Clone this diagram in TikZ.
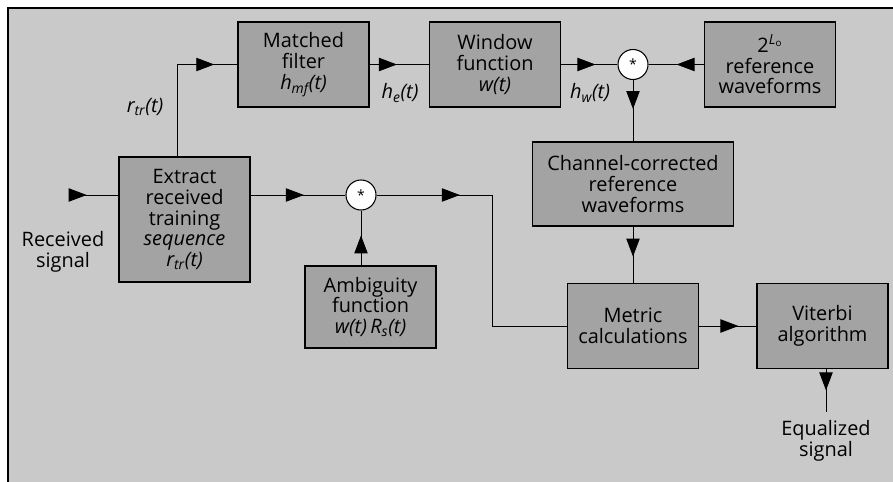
\documentclass[tikz,border=0pt]{standalone}
\usepackage{fontspec}
\setmainfont{Open Sans}
\usepackage{tikz}
\usetikzlibrary{arrows.meta,decorations.markings}
\definecolor{paper}{gray}{0.79}
\definecolor{blockfill}{gray}{0.64}
\newcommand{\sgl}[2]{\textit{#1\textsubscript{#2}(t)}}
\tikzset{
  block/.style ={draw=black,line width=1pt,fill=blockfill,align=center,
                 minimum width=3.93cm,minimum height=2.55cm,inner sep=2pt,
                 font=\fontsize{17}{17.8}\selectfont},
  conv/.style  ={circle,draw=black,line width=0.9pt,fill=white,minimum size=0.9cm,
                 inner sep=0pt,font=\large},
  lbl/.style   ={align=center,font=\fontsize{17}{17.8}\selectfont},
  flow/.style  ={line width=0.8pt,draw=black,postaction={decorate},
                 decoration={markings,mark=at position #1 with
                   {\arrow{Triangle[length=5.4mm,width=4mm]}}}}
}

\begin{document}
\begin{tikzpicture}[x=0.03cm,y=-0.03cm]
    \useasboundingbox (0,0) rectangle (893,482);
    \fill[paper] (8,8) rectangle (893,482);
    \draw[line width=1.2pt] (8,482) -- (8,8) -- (893,8);

    % top row
    \node[block] (mf) at (303.5,64.5) {Matched\\filter\\\sgl{h}{mf}};
    \node[block] (win) at (495,64.5) {Window\\function\\\textit{w(t)}};
    \node[conv] (ctop) at (633,64.5) {*};
    \node[block] (ref) at (770,64.5) {2\textsuperscript{\textit{L}\textsubscript{o}}\\reference\\waveforms};
    \node[block,minimum width=6.03cm,minimum height=2.52cm] (chan) at (633,184) {Channel-corrected\\reference\\waveforms};

    % lower row
    \node[block,minimum height=3.75cm] (ext) at (184.5,219.5) {Extract\\received\\training\\\textit{sequence}\\\sgl{r}{tr}};
    \node[conv] (cbot) at (361,195) {*};
    \node[block,minimum height=2.46cm] (amb) at (370.5,307) {Ambiguity\\function\\\textit{w(t)\,R\textsubscript{s}(t)}};
    \node[block] (met) at (633,326) {Metric\\calculations};
    \node[block] (vit) at (822.5,326) {Viterbi\\algorithm};

    \node[lbl] (rx) at (63,252) {Received\\signal};
    \node[lbl] (eq) at (826,441) {Equalized\\signal};
    \node[lbl] (rtr) at (145,107) {\sgl{r}{tr}};
    \node[lbl] (he) at (400,93) {\sgl{h}{e}};
    \node[lbl] (hw) at (590,93) {\sgl{h}{w}};

    \coordinate (rxin) at (70,195);
    \coordinate (bend) at (492,195);
    \coordinate (eqout) at (826,412);

    \draw[flow=0.5cm] (rxin) -- (rxin -| ext.west);
    \draw[flow=3.87cm] ([xshift=-0.22cm]ext.north) |- (mf.west);
    \draw[flow=1.6cm] (ext.east |- cbot) -- (cbot);
    \draw[flow=0.9cm] (amb.north -| cbot) -- (cbot);
    \draw[flow=2.5cm] (cbot) -- (bend) |- (met.west);
    \draw[flow=0.82cm] (mf) -- (win);
    \draw[flow=1.03cm] (win) -- (ctop);
    \draw[flow=0.82cm] (ref) -- (ctop);
    \draw[flow=0.87cm] (ctop) -- (chan);
    \draw[flow=0.9cm] (chan) -- (met);
    \draw[flow=1.18cm] (met) -- (vit);
    \draw[flow=0.64cm] (vit.south -| eqout) -- (eqout);
\end{tikzpicture}
\end{document}
